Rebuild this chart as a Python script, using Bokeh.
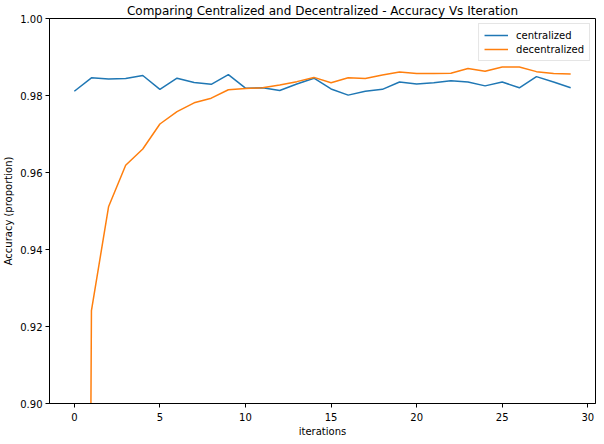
from bokeh.plotting import figure
from bokeh.models import Range1d, FixedTicker, Legend, LegendItem, Title
from bokeh.embed import file_html
from bokeh.resources import INLINE

iterations = list(range(30))
centralized = [0.9811, 0.9846, 0.9843, 0.9844, 0.9852, 0.9816, 0.9845, 0.9834, 0.9829, 0.9854,
               0.9819, 0.9820, 0.9813, 0.9830, 0.9845, 0.9817, 0.9801, 0.9811, 0.9816, 0.9835,
               0.9830, 0.9833, 0.9838, 0.9835, 0.9825, 0.9835, 0.9820, 0.9849, 0.9835, 0.9820]
decentralized = [0.10, 0.9241, 0.9511, 0.9619, 0.9661, 0.9726, 0.9758, 0.9781, 0.9793, 0.9815,
                 0.9818, 0.9820, 0.9827, 0.9836, 0.9847, 0.9833, 0.9846, 0.9844, 0.9853, 0.9861,
                 0.9857, 0.9857, 0.9858, 0.9870, 0.9863, 0.9874, 0.9874, 0.9862, 0.9857, 0.9856]
x_ticks = [0, 5, 10, 15, 20, 25, 30]
y_ticks = [0.90, 0.92, 0.94, 0.96, 0.98, 1.00]

FONT = "DejaVu Sans"

p = figure(width=596, height=436, output_backend="svg", toolbar_location=None,
           title="Comparing Centralized and Decentralized - Accuracy Vs Iteration",
           x_range=Range1d(-1.45, 30.45), y_range=Range1d(0.90, 1.00),
           min_border_right=1, min_border_top=0, min_border_left=49, min_border_bottom=0,
           border_fill_color="white", background_fill_color="white")

p.title.text_font = FONT
p.title.text_font_size = "12px"
p.title.text_font_style = "normal"
p.title.align = "center"
p.title.text_color = "black"
p.title.standoff = 2

p.xgrid.visible = False
p.ygrid.visible = False
p.outline_line_color = "black"
p.outline_line_width = 1
p.outline_line_alpha = 1.0

for ax in (p.xaxis[0], p.yaxis[0]):
    ax.axis_label_text_font = FONT
    ax.axis_label_text_font_size = "10px"
    ax.axis_label_text_font_style = "normal"
    ax.axis_label_text_color = "black"
    ax.major_label_text_font = FONT
    ax.major_label_text_font_size = "10px"
    ax.major_label_text_color = "black"
    ax.major_tick_out = 4
    ax.major_tick_in = 0
    ax.minor_tick_out = 0
    ax.minor_tick_in = 0
    ax.major_tick_line_color = "black"
    ax.axis_line_color = "black"
    ax.major_label_standoff = 3
    ax.axis_label_standoff = 3

p.xaxis.major_label_standoff = 5
p.yaxis.axis_label = "Accuracy (proportion)"
p.xaxis.ticker = FixedTicker(ticks=x_ticks)
p.yaxis.ticker = FixedTicker(ticks=y_ticks)
p.yaxis.major_label_overrides = {t: f"{t:.2f}" for t in y_ticks}

xtitle = Title(text="iterations", align="center", text_font=FONT, text_font_size="10px",
               text_font_style="normal", text_color="black", standoff=0, offset=0)
p.add_layout(xtitle, "below")

r1 = p.line(iterations, centralized, line_color="#1f77b4", line_width=1.5)
r2 = p.line(iterations, decentralized, line_color="#ff7f0e", line_width=1.5)

legend = Legend(items=[LegendItem(label="centralized", renderers=[r1]),
                       LegendItem(label="decentralized", renderers=[r2])],
                location="top_right")
legend.label_text_font = FONT
legend.label_text_font_size = "10px"
legend.label_text_color = "black"
legend.glyph_width = 24
legend.glyph_height = 12
legend.label_height = 12
legend.label_standoff = 8
legend.spacing = 2
legend.padding = 5
legend.margin = 5
legend.border_line_color = "#cccccc"
legend.border_line_width = 1
legend.background_fill_alpha = 0.8
p.add_layout(legend)

open("out.html", "w").write(file_html(p, INLINE))
